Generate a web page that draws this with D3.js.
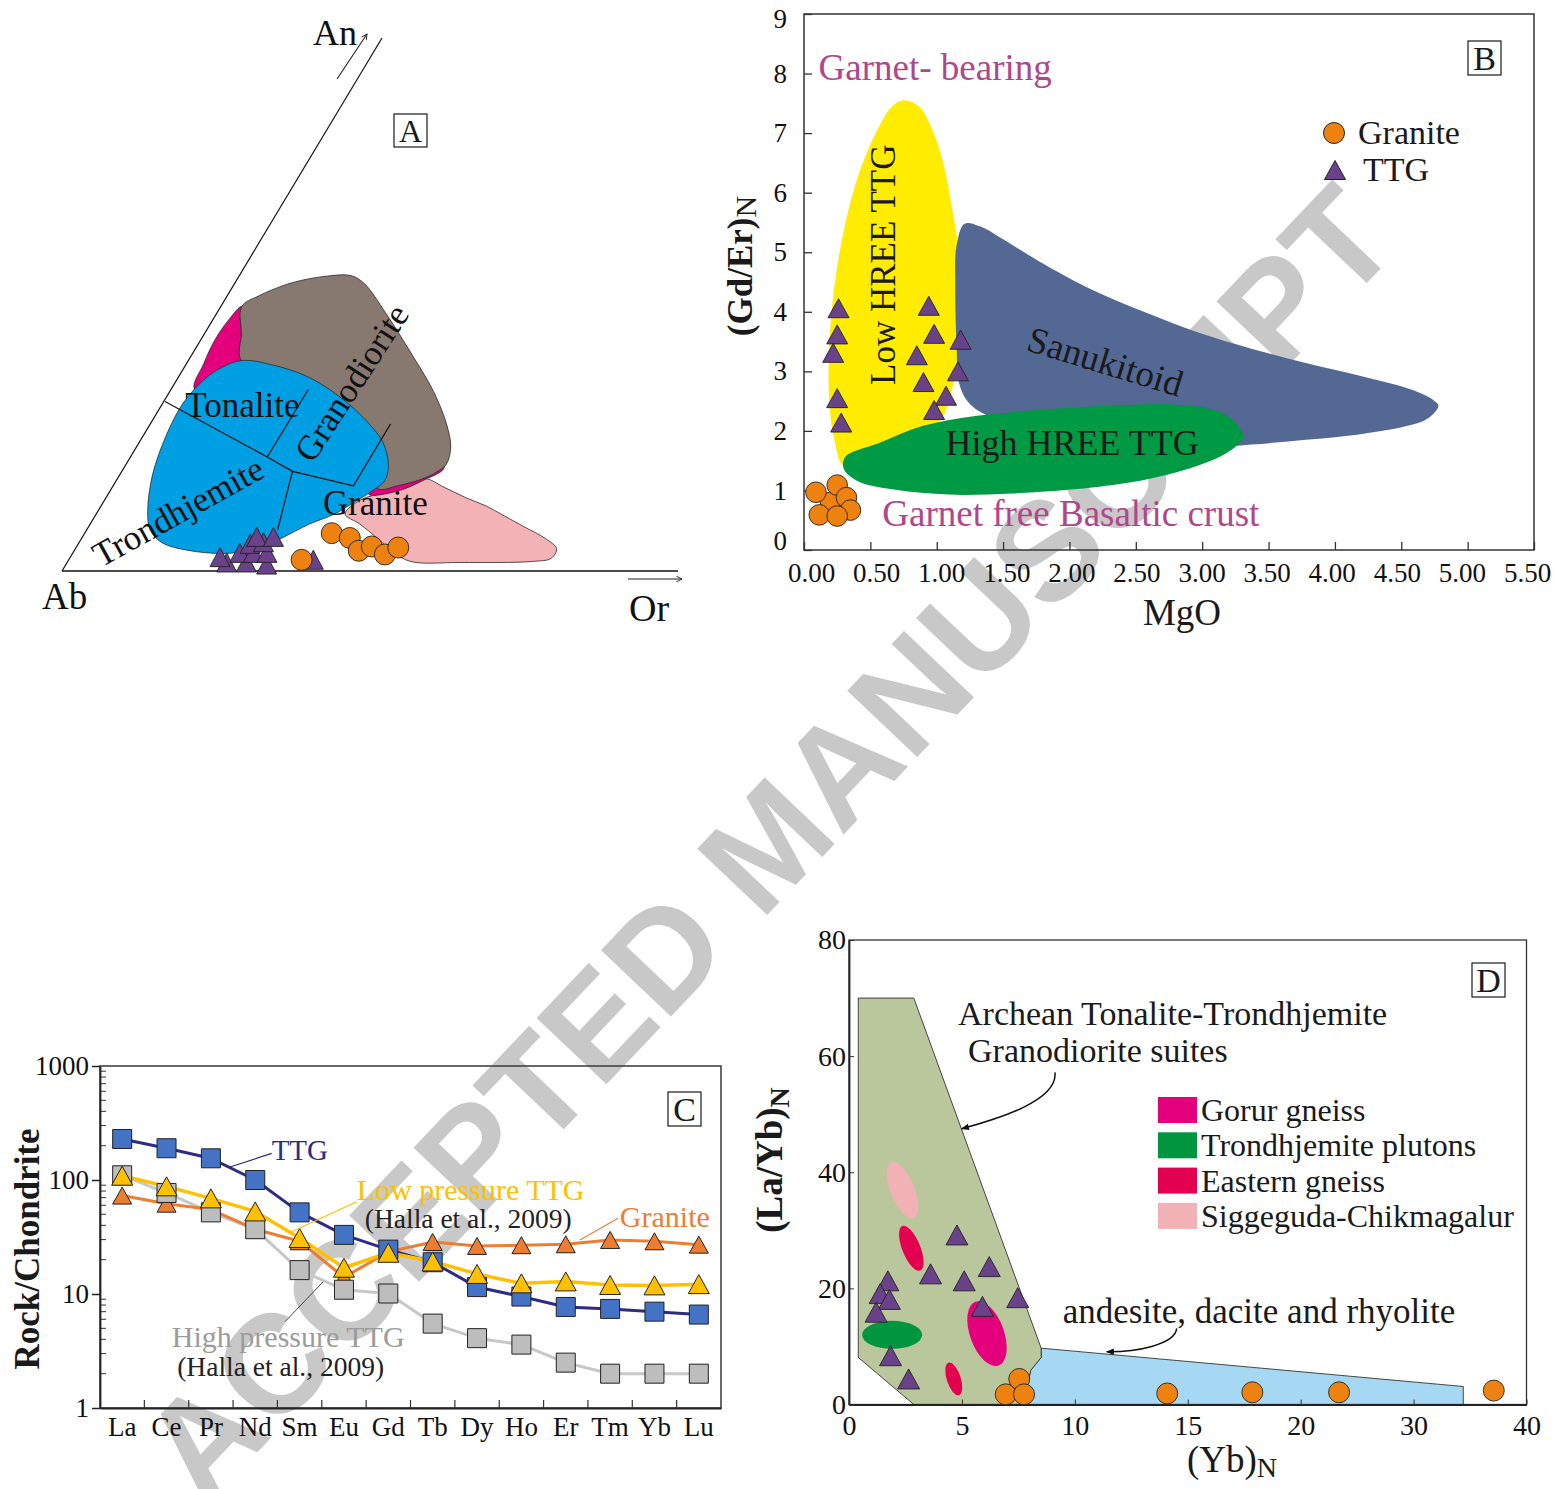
<!DOCTYPE html>
<html>
<head>
<meta charset="utf-8">
<title>TTG and granite geochemistry</title>
<script src="https://cdn.jsdelivr.net/npm/d3@7"></script>
<style>
  html, body { margin: 0; padding: 0; background: #fff; }
  svg { display: block; font-family: "Liberation Serif", "Times New Roman", serif; }
</style>
</head>
<body>
<svg id="fig" width="1554" height="1489"></svg>
<script>
// ---------------- Panel A: Ab–An–Or normative triangle, points as [Or %, An %] ----------------
const aTTG = [[25.9,1.6],[29.1,1.6],[32.6,1.2],[24.3,2.6],[27.1,3.4],[29.3,3.4],[31.5,3.4],
              [27.9,5.1],[29.9,5.4],[28.3,6.4],[31.0,6.4],[39.7,2.1]];
const aGranite = [[37.8,2.1],[40.1,7.1],[43.5,6.2],[46.2,3.8],[47.9,4.6],[50.8,3.1],[52.3,4.4]];
const aFieldGranite = [[49.6,17.4],[53.9,15.7],[58.3,13.8],[62.5,12.2],[66.1,10.5],[70.7,8.3],[75.3,6.1],
  [78.1,4.2],[78.2,2.4],[75.5,1.8],[63.9,1.6],[55.6,1.8],[51.9,3.6],[47.9,6.2],[43.8,8.8],[40.4,10.7],
  [41.5,13.3],[44.8,14.8]];
const aFieldQuartzDioriteUpper = [[3.4,49.6],[2.6,47.2],[2.3,43.3],[2.8,38.9],[3.8,34.1],[10.6,32.1],[11.1,35.8],[6.0,44.5]];
const aFieldQuartzDioriteLower = [[42.3,14.4],[46.7,15.0],[49.8,17.0],[52.0,19.2],[51.0,21.0],[46.0,19.0],[42.0,17.0]];
const aFieldGranodiorite = [[3.4,49.6],[5.1,51.6],[9.3,54.1],[14.8,55.4],[18.2,55.4],[21.1,53.9],[27.3,48.5],
  [35.2,41.1],[42.8,33.7],[48.0,27.7],[51.0,23.3],[52.0,20.0],[51.1,18.5],[49.4,17.2],[46.2,16.0],[43.1,15.5],
  [35.6,24.6],[20.0,35.8],[8.6,39.5],[6.0,44.5]];
const aFieldTTG = [[8.7,39.5],[14.7,38.5],[21.3,36.3],[28.9,32.2],[35.4,27.7],[39.6,24.1],[42.6,20.0],[43.6,17.0],
  [42.6,15.1],[40.5,12.6],[38.7,10.7],[35.6,8.8],[32.5,6.2],[29.8,4.2],[24.8,3.3],[18.3,3.9],[13.5,5.3],
  [10.3,7.7],[8.0,11.4],[5.3,18.1],[3.7,25.5],[3.3,31.5],[4.4,35.9],[6.0,38.1]];
const aBoundaryMain = [[0.2,31.8],[22.2,21.4],[27.7,18.7],[39.0,16.0],[39.0,27.6]];
const aBoundaryTonGrd = [[22.2,21.4],[22.3,34.1]];
const aBoundaryTrdGrt = [[27.7,18.7],[31.0,7.7]];

// ---------------- Panel B: (Gd/Er)N vs MgO ----------------
const bTTG = [[0.26,4.06],[0.25,3.62],[0.22,3.31],[0.25,2.55],[0.28,2.14],[0.94,4.10],[0.98,3.63],
              [0.85,3.27],[0.90,2.82],[1.07,2.59],[0.98,2.35],[1.18,3.53],[1.16,3.00]];
const bGranite = [[0.20,0.80],[0.09,0.97],[0.25,1.09],[0.32,0.88],[0.35,0.67],[0.115,0.59],[0.25,0.57]];
const bLowHREE = [[0.75,7.55],[0.87,7.44],[0.97,7.04],[1.05,6.49],[1.11,5.81],[1.16,5.12],[1.18,4.44],
  [1.18,3.75],[1.16,3.21],[1.11,2.66],[1.03,2.18],[0.89,1.97],[0.57,1.70],[0.30,1.42],[0.23,1.84],
  [0.19,2.52],[0.19,3.41],[0.23,4.44],[0.31,5.47],[0.42,6.36],[0.55,7.04],[0.66,7.44]];
const bSanukitoid = [[1.21,5.48],[1.33,5.43],[1.49,5.23],[1.77,4.85],[2.17,4.37],[2.57,3.99],[2.97,3.65],
  [3.37,3.38],[3.78,3.14],[4.18,2.93],[4.58,2.69],[4.74,2.52],[4.78,2.42],[4.70,2.21],[4.54,2.08],
  [4.18,1.94],[3.78,1.85],[3.37,1.77],[3.00,1.72],[2.20,1.90],[1.45,2.20],[1.25,2.45],[1.17,2.79],
  [1.15,3.41],[1.14,4.44],[1.15,5.12]];
const bHighHREE = [[0.31,1.56],[0.57,1.80],[0.89,2.08],[1.29,2.25],[1.77,2.35],[2.37,2.43],[2.81,2.44],
  [3.09,2.35],[3.23,2.18],[3.31,1.90],[3.27,1.77],[3.13,1.56],[2.89,1.36],[2.57,1.18],[2.17,1.05],
  [1.57,0.95],[1.09,0.93],[0.69,1.01],[0.41,1.15],[0.30,1.36]];
const bXTicks = [0,0.5,1,1.5,2,2.5,3,3.5,4,4.5,5,5.5];
const bYTicks = [0,1,2,3,4,5,6,7,8,9];

// ---------------- Panel C: chondrite-normalised REE ----------------
const ree = ["La","Ce","Pr","Nd","Sm","Eu","Gd","Tb","Dy","Ho","Er","Tm","Yb","Lu"];
const cTTG      = [229,190,155,100,52,33,24.5,19,11.5,9.5,7.7,7.4,7.0,6.6];
const cLowP     = [109,88,69,53,31,17,23,19.3,15,12.4,12.9,12.0,11.9,12.2];
const cGranite  = [73,62,55,37,29,14,23.4,28.6,26.4,26.8,27.3,29.8,29,27.1];
const cHighP    = [110,77,52,37,16.2,10.9,10.1,5.5,4.1,3.6,2.5,2.0,2.0,2.0];
const cYTicks = [1,10,100,1000];

// ---------------- Panel D: (La/Yb)N vs (Yb)N ----------------
const dTTG = [[1.72,21.3],[1.38,19.1],[1.79,18.1],[1.20,15.9],[1.84,8.4],[2.64,4.4],[3.61,22.5],
              [4.78,29.2],[5.10,21.3],[6.21,23.75],[5.91,16.9],[7.47,18.4]];
const dGranite = [[6.94,1.75],[7.54,4.4],[7.75,1.75],[14.09,1.9],[17.86,2.1],[23.4,2.1],[37.1,2.4]];
const dArcheanTTG = [[0.41,70],[2.87,70],[8.51,9.7],[8.51,8.1],[8.05,5.9],[7.70,0],[2.87,0],[0.41,8.1]];
const dVolcanic = [[8.51,9.7],[34.4,3.1],[34.4,0],[7.70,0],[8.05,5.9],[8.51,8.1]];
const dFieldNames = ["Gorur gneiss","Trondhjemite plutons","Eastern gneiss","Siggeguda-Chikmagalur"];
// ellipse fields: centre (x, y), semi-axes in data units, tilt in degrees, legend entry
const dFields = [
  {x:2.37, y:36.9, rx:0.53, ry:5.16, tilt:-22, field:3},
  {x:2.76, y:26.9, rx:0.40, ry:4.13, tilt:-22, field:2},
  {x:6.11, y:12.2, rx:0.75, ry:5.85, tilt:-20, field:0},
  {x:4.64, y:4.4,  rx:0.31, ry:2.93, tilt:-18, field:2},
  {x:1.91, y:12.0, rx:1.33, ry:2.41, tilt:0,   field:1}
];
const dXTicks = [0,5,10,15,20,30,40];
const dYTicks = [0,20,40,60,80];

// ---------------- drawing ----------------
const svg = d3.select("#fig");
const ink = "#1a1a1a";
const purple = "#6a4289";
const orange = "#ee8210";

const tri = (w, h) => `M0,${-h/2}L${w/2},${h/2}L${-w/2},${h/2}Z`;
const sq = s => `M${-s/2},${-s/2}h${s}v${s}h${-s}Z`;
const smooth = d3.line().curve(d3.curveCatmullRomClosed.alpha(0.5));
const polyClosed = d3.line().curve(d3.curveLinearClosed);
const polyOpen = d3.line();

const defs = svg.append("defs");
defs.append("marker").attr("id", "openHead").attr("viewBox", "0 0 10 10")
  .attr("refX", 9).attr("refY", 5).attr("markerWidth", 7).attr("markerHeight", 7)
  .attr("markerUnits", "userSpaceOnUse").attr("orient", "auto")
  .append("path").attr("d", "M1,1L9,5L1,9").attr("fill", "none").attr("stroke", "#222").attr("stroke-width", 1.3);
defs.append("marker").attr("id", "solidHead").attr("viewBox", "0 0 10 10")
  .attr("refX", 9).attr("refY", 5).attr("markerWidth", 11).attr("markerHeight", 8)
  .attr("markerUnits", "userSpaceOnUse").attr("orient", "auto")
  .append("path").attr("d", "M0,1L10,5L0,9Z").attr("fill", "#111");

// watermark sits underneath every panel
svg.append("text")
  .attr("transform", "translate(767,842) rotate(-46.5)")
  .attr("text-anchor", "middle").attr("dy", "0.36em")
  .style("font-family", "'Liberation Sans', Arial, sans-serif")
  .style("font-weight", "bold").style("font-size", "140px")
  .attr("fill", "#c8c8c8")
  .text("ACCEPTED MANUSCRIPT");

function letterBox(g, x, y, w, h, letter, size) {
  g.append("rect").attr("x", x).attr("y", y).attr("width", w).attr("height", h)
    .attr("fill", "#fff").attr("stroke", ink).attr("stroke-width", 1.2);
  g.append("text").attr("x", x + w / 2).attr("y", y + h / 2).attr("dy", "0.35em")
    .attr("text-anchor", "middle").style("font-size", size + "px").attr("fill", ink).text(letter);
}

// ================= Panel A =================
const gA = svg.append("g");
const anY = d3.scaleLinear([0, 100], [571, 38]);
const anShift = d3.scaleLinear([0, 100], [0, 320]);
const orX = d3.scaleLinear([0, 100], [62, 678]);
const proj = ([or, an]) => [orX(or) + anShift(an), anY(an)];

[
  {pts: aFieldGranite, fill: "#f3b3b6"},
  {pts: aFieldQuartzDioriteUpper, fill: "#e4007d"},
  {pts: aFieldQuartzDioriteLower, fill: "#e4007d"},
  {pts: aFieldGranodiorite, fill: "#877870"},
  {pts: aFieldTTG, fill: "#009fe3"}
].forEach(f => {
  gA.append("path").attr("d", smooth(f.pts.map(proj)))
    .attr("fill", f.fill).attr("stroke", "#2a2a2a").attr("stroke-width", 0.8);
});
[aBoundaryMain, aBoundaryTonGrd, aBoundaryTrdGrt].forEach(b => {
  gA.append("path").attr("d", polyOpen(b.map(proj)))
    .attr("fill", "none").attr("stroke", "#111").attr("stroke-width", 1.2);
});
// triangle sides Ab–An and Ab–Or
gA.append("path").attr("d", polyOpen([[0,0],[0,100]].map(proj))).attr("stroke", "#111").attr("stroke-width", 1.2);
gA.append("path").attr("d", polyOpen([[0,0],[100,0]].map(proj))).attr("stroke", "#111").attr("stroke-width", 1.4);

const aLabels = [
  {t: "Tonalite", p: [5.0, 28.9], anchor: "start", rot: 0},
  {t: "Granodiorite", p: [28.7, 35.3], anchor: "middle", rot: -57, dy: "0.33em"},
  {t: "Trondhjemite", p: [13.1, 11.1], anchor: "middle", rot: -29, dy: "0.33em"},
  {t: "Granite", p: [36.9, 10.5], anchor: "start", rot: 0}
];
aLabels.forEach(l => {
  const [x, y] = proj(l.p);
  gA.append("text").attr("transform", `translate(${x},${y}) rotate(${l.rot})`)
    .attr("text-anchor", l.anchor).attr("dy", l.dy || 0)
    .style("font-size", "35px").attr("fill", "#111").text(l.t);
});

gA.selectAll(".aTri").data(aTTG).join("path")
  .attr("transform", d => `translate(${proj(d)})`).attr("d", tri(20, 19))
  .attr("fill", purple).attr("stroke", "#222").attr("stroke-width", 0.9);
gA.selectAll(".aCirc").data(aGranite).join("circle")
  .attr("cx", d => proj(d)[0]).attr("cy", d => proj(d)[1]).attr("r", 10.5)
  .attr("fill", orange).attr("stroke", "#222").attr("stroke-width", 0.9);

// apex labels and direction arrows
gA.append("text").attr("x", 313).attr("y", 45).style("font-size", "36px").attr("fill", "#111").text("An");
gA.append("line").attr("x1", 337).attr("y1", 79).attr("x2", 367).attr("y2", 34)
  .attr("stroke", "#222").attr("stroke-width", 1.1).attr("marker-end", "url(#openHead)");
gA.append("text").attr("x", 42).attr("y", 609).style("font-size", "37px").attr("fill", "#111").text("Ab");
gA.append("text").attr("x", 629).attr("y", 621).style("font-size", "38px").attr("fill", "#111").text("Or");
gA.append("line").attr("x1", 628).attr("y1", 579).attr("x2", 682).attr("y2", 579)
  .attr("stroke", "#222").attr("stroke-width", 1.1).attr("marker-end", "url(#openHead)");
letterBox(gA, 394, 114, 33, 33, "A", 32);

// ================= Panel B =================
const gB = svg.append("g");
const xB = d3.scaleLinear([0, 5.5], [804, 1534]);
const yB = d3.scaleLinear([0, 9], [550, 14]);
const projB = d => [xB(d[0]), yB(d[1])];

gB.append("path").attr("d", smooth(bLowHREE.map(projB))).attr("fill", "#ffec00");
gB.append("path").attr("d", smooth(bSanukitoid.map(projB))).attr("fill", "#536893");
gB.append("path").attr("d", smooth(bHighHREE.map(projB))).attr("fill", "#009a44");

gB.append("rect").attr("x", xB(0)).attr("y", yB(9)).attr("width", xB(5.5) - xB(0)).attr("height", yB(0) - yB(9))
  .attr("fill", "none").attr("stroke", "#333").attr("stroke-width", 1.5);

const axB = gB.append("g").attr("transform", `translate(0,${yB(0)})`)
  .call(d3.axisBottom(xB).tickValues(bXTicks).tickFormat(d3.format(".2f")).tickSizeInner(-8).tickSizeOuter(0).tickPadding(13));
const ayB = gB.append("g").attr("transform", `translate(${xB(0)},0)`)
  .call(d3.axisLeft(yB).tickValues(bYTicks).tickFormat(d3.format("d")).tickSizeInner(-8).tickSizeOuter(0).tickPadding(17));
[axB, ayB].forEach(a => {
  a.select(".domain").remove();
  a.selectAll("line").attr("stroke", "#333").attr("stroke-width", 1.3);
  a.selectAll("text").style("font-family", "'Liberation Serif', serif").style("font-size", "27px").attr("fill", "#111");
});
// the outer tick labels are pulled in towards the plot so they stay clear of each other and the edge
const nB = bXTicks.length - 1;
axB.selectAll("text").attr("dx", (d, i) => 7 - 14 * i / nB);
ayB.selectAll("text").attr("dy", d => d === 0 ? "-0.03em" : d === 9 ? "0.5em" : "0.32em");

gB.append("text").attr("x", xB(0.11)).attr("y", yB(7.9)).style("font-size", "37px").attr("fill", "#b0468b").text("Garnet- bearing");
gB.append("text").attr("x", xB(0.59)).attr("y", yB(0.40)).style("font-size", "37px").attr("fill", "#b0468b").text("Garnet free Basaltic crust");
gB.append("text").attr("transform", `translate(${xB(0.60)},${yB(4.79)}) rotate(-90)`)
  .attr("text-anchor", "middle").attr("dy", "0.33em").style("font-size", "35px").attr("fill", ink).text("Low HREE TTG");
gB.append("text").attr("transform", `translate(${xB(2.27)},${yB(3.16)}) rotate(17)`)
  .attr("text-anchor", "middle").attr("dy", "0.33em").style("font-size", "37px").attr("fill", ink).text("Sanukitoid");
gB.append("text").attr("x", xB(2.02)).attr("y", yB(1.80)).attr("dy", "0.33em")
  .attr("text-anchor", "middle").style("font-size", "36px").attr("fill", ink).text("High HREE TTG");

gB.selectAll(".bTri").data(bTTG).join("path")
  .attr("transform", d => `translate(${projB(d)})`).attr("d", tri(21, 19))
  .attr("fill", purple).attr("stroke", "#222").attr("stroke-width", 0.9);
gB.selectAll(".bCirc").data(bGranite).join("circle")
  .attr("cx", d => xB(d[0])).attr("cy", d => yB(d[1])).attr("r", 10.3)
  .attr("fill", orange).attr("stroke", "#222").attr("stroke-width", 0.9);

// legend
gB.append("circle").attr("cx", 1334).attr("cy", 133).attr("r", 10.5).attr("fill", orange).attr("stroke", "#222");
gB.append("text").attr("x", 1358).attr("y", 133).attr("dy", "0.33em").style("font-size", "34px").attr("fill", ink).text("Granite");
gB.append("path").attr("transform", "translate(1335,170)").attr("d", tri(21, 19)).attr("fill", purple).attr("stroke", "#222");
gB.append("text").attr("x", 1363).attr("y", 170).attr("dy", "0.33em").style("font-size", "34px").attr("fill", ink).text("TTG");
letterBox(gB, 1468, 41, 33, 34, "B", 34);

gB.append("text").attr("x", (xB(0) + xB(5.5)) / 2 + 13).attr("y", 625)
  .attr("text-anchor", "middle").style("font-size", "37px").attr("fill", ink).text("MgO");
const yTitleB = gB.append("text").attr("transform", "translate(752,266) rotate(-90)")
  .attr("text-anchor", "middle").style("font-size", "35px").style("font-weight", "bold").attr("fill", ink);
yTitleB.append("tspan").text("(Gd/Er)");
yTitleB.append("tspan").attr("dy", "0.12em").style("font-weight", "normal").style("font-size", "30px").text("N");

// ================= Panel C =================
const gC = svg.append("g");
const xC = d3.scaleBand().domain(ree).range([100, 721]);
const yC = d3.scaleLog().domain([1, 1000]).range([1408, 1066]);
const idxC = d3.scaleLinear([0, ree.length - 1], [xC(ree[0]) + xC.bandwidth() / 2, xC(ree[ree.length - 1]) + xC.bandwidth() / 2]);

gC.append("rect").attr("x", 100).attr("y", yC(1000)).attr("width", 621).attr("height", yC(1) - yC(1000))
  .attr("fill", "none").attr("stroke", "#444").attr("stroke-width", 1.6);

// category boundary ticks along the bottom
gC.selectAll(".bt").data(ree.slice(1)).join("line")
  .attr("x1", d => xC(d)).attr("x2", d => xC(d)).attr("y1", yC(1)).attr("y2", yC(1) - 8)
  .attr("stroke", "#333").attr("stroke-width", 1.2);
// minor log ticks inside the left axis
const minor = [];
[1, 10, 100].forEach(dec => { for (let k = 2; k <= 9; k++) minor.push(k * dec); });
gC.selectAll(".mt").data(minor).join("line")
  .attr("x1", 100).attr("x2", 106).attr("y1", d => yC(d)).attr("y2", d => yC(d))
  .attr("stroke", "#333").attr("stroke-width", 1);

const ayC = gC.append("g").attr("transform", "translate(100,0)")
  .call(d3.axisLeft(yC).tickValues(cYTicks).tickFormat(d3.format("d")).tickSizeInner(8).tickSizeOuter(0).tickPadding(3));
const axC = gC.append("g").attr("transform", `translate(0,${yC(1)})`)
  .call(d3.axisBottom(xC).tickSize(0).tickPadding(9));
[ayC, axC].forEach(a => {
  a.select(".domain").attr("stroke", "#222").attr("stroke-width", 1.8);
  a.selectAll("line").attr("stroke", "#222").attr("stroke-width", 1.5);
  a.selectAll("text").style("font-family", "'Liberation Serif', serif").style("font-size", "27px").attr("fill", "#111");
});

const cSeries = [
  {values: cHighP,   line: "#c7c7c7", fill: "#bdbdbd", shape: sq(19), lw: 3},
  {values: cGranite, line: "#ed7d31", fill: "#ed7d31", shape: tri(19, 17), lw: 3},
  {values: cTTG,     line: "#2e2b87", fill: "#4472c4", shape: sq(19), lw: 3},
  {values: cLowP,    line: "#ffc000", fill: "#ffc000", shape: tri(21, 19), lw: 3.5}
];
const reeLine = d3.line().x((d, i) => xC(ree[i]) + xC.bandwidth() / 2).y(d => yC(d));
cSeries.forEach(s => {
  gC.append("path").attr("d", reeLine(s.values)).attr("fill", "none")
    .attr("stroke", s.line).attr("stroke-width", s.lw).attr("stroke-linejoin", "round");
});
[cSeries[1], cSeries[0], cSeries[2], cSeries[3]].forEach(s => {
  gC.append("g").selectAll("path").data(s.values).join("path")
    .attr("transform", (d, i) => `translate(${xC(ree[i]) + xC.bandwidth() / 2},${yC(d)})`)
    .attr("d", s.shape).attr("fill", s.fill).attr("stroke", "#222").attr("stroke-width", 1);
});

// series annotations with leader lines
const cNotes = [
  {from: [2.43, 130], to: [3.37, 171], color: "#2e2b87", lw: 1.2,
   texts: [{t: "TTG", at: [3.37, 150], size: 29, color: "#2e2b87"}]},
  {from: [3.82, 35.2], to: [5.29, 64.5], color: "#ffc000", lw: 1.2,
   texts: [{t: "Low pressure TTG", at: [5.29, 66.8], size: 30, color: "#ffc000"},
            {t: "(Halla et al., 2009)", at: [5.47, 37.9], size: 27.5, color: "#222"}]},
  {from: [10.32, 29.8], to: [11.18, 46.1], color: "#ed7d31", lw: 1.2,
   texts: [{t: "Granite", at: [11.22, 38.7], size: 30, color: "#ed7d31"}]},
  {from: [3.67, 5.71], to: [4.53, 12.8], color: "#444", lw: 1,
   texts: [{t: "High pressure TTG", at: [1.12, 3.43], size: 30, color: "#9b9b9b"},
            {t: "(Halla et al., 2009)", at: [1.24, 1.91], size: 27.5, color: "#222"}]}
];
cNotes.forEach(n => {
  gC.append("line").attr("x1", idxC(n.from[0])).attr("y1", yC(n.from[1]))
    .attr("x2", idxC(n.to[0])).attr("y2", yC(n.to[1]))
    .attr("stroke", n.color).attr("stroke-width", n.lw);
  n.texts.forEach(t => gC.append("text").attr("x", idxC(t.at[0])).attr("y", yC(t.at[1]))
    .style("font-size", t.size + "px").attr("fill", t.color).text(t.t));
});
letterBox(gC, 668, 1092, 33, 34, "C", 34);
gC.append("text").attr("transform", "translate(39,1249) rotate(-90)").attr("text-anchor", "middle")
  .style("font-size", "35px").style("font-weight", "bold").attr("fill", ink).text("Rock/Chondrite");

// ================= Panel D =================
const gD = svg.append("g");
const dLeft = 849, dRight = 1526.5;
const xD = d3.scaleLinear().domain(dXTicks)
  .range(dXTicks.map((d, i) => dLeft + i * (dRight - dLeft) / (dXTicks.length - 1)));
const yD = d3.scaleLinear([0, 80], [1404.5, 940]);
const projD = d => [xD(d[0]), yD(d[1])];
const dColors = ["#e4007c", "#009640", "#e4004f", "#f2b1b5"];

gD.append("path").attr("d", polyClosed(dVolcanic.map(projD))).attr("fill", "#a6d8f4")
  .attr("stroke", "#333").attr("stroke-width", 0.9);
gD.append("path").attr("d", polyClosed(dArcheanTTG.map(projD))).attr("fill", "#bac79d")
  .attr("stroke", "#333").attr("stroke-width", 0.9);

gD.selectAll(".ell").data(dFields).join("ellipse")
  .attr("cx", d => xD(d.x)).attr("cy", d => yD(d.y))
  .attr("rx", d => xD(d.x + d.rx) - xD(d.x)).attr("ry", d => yD(0) - yD(d.ry))
  .attr("transform", d => `rotate(${d.tilt},${xD(d.x)},${yD(d.y)})`)
  .attr("fill", d => dColors[d.field]);

gD.append("rect").attr("x", dLeft).attr("y", yD(80)).attr("width", dRight - dLeft).attr("height", yD(0) - yD(80))
  .attr("fill", "none").attr("stroke", "#333").attr("stroke-width", 1.3);
const axD = gD.append("g").attr("transform", `translate(0,${yD(0)})`)
  .call(d3.axisBottom(xD).tickValues(dXTicks).tickFormat(d3.format("d")).tickSizeInner(-5).tickSizeOuter(0).tickPadding(11));
const ayD = gD.append("g").attr("transform", `translate(${dLeft},0)`)
  .call(d3.axisLeft(yD).tickValues(dYTicks).tickFormat(d3.format("d")).tickSizeInner(-5).tickSizeOuter(0).tickPadding(3));
[axD, ayD].forEach(a => {
  a.select(".domain").attr("stroke", "#222").attr("stroke-width", 1.8);
  a.selectAll("line").attr("stroke", "#333");
  a.selectAll("text").style("font-family", "'Liberation Serif', serif").style("font-size", "28px").attr("fill", "#111");
});

gD.selectAll(".dTri").data(dTTG).join("path")
  .attr("transform", d => `translate(${projD(d)})`).attr("d", tri(22, 20))
  .attr("fill", purple).attr("stroke", "#222").attr("stroke-width", 0.9);
gD.selectAll(".dCirc").data(dGranite).join("circle")
  .attr("cx", d => xD(d[0])).attr("cy", d => yD(d[1])).attr("r", 10.5)
  .attr("fill", orange).attr("stroke", "#222").attr("stroke-width", 0.9);

// field annotations
gD.append("text").attr("x", xD(4.83)).attr("y", yD(65.3)).style("font-size", "34px").attr("fill", ink)
  .text("Archean Tonalite-Trondhjemite");
gD.append("text").attr("x", xD(5.27)).attr("y", yD(59.0)).style("font-size", "34px").attr("fill", ink)
  .text("Granodiorite suites");
gD.append("text").attr("x", xD(9.46)).attr("y", yD(13.97)).style("font-size", "35px").attr("fill", ink)
  .text("andesite, dacite and rhyolite");
const curveArrow = (s, c1, c2, e) => {
  const p = d3.path();
  p.moveTo(xD(s[0]), yD(s[1]));
  p.bezierCurveTo(xD(c1[0]), yD(c1[1]), xD(c2[0]), yD(c2[1]), xD(e[0]), yD(e[1]));
  return p.toString();
};
gD.append("path").attr("d", curveArrow([9.12, 57.2], [9.26, 52.4], [6.69, 49.3], [4.99, 47.5]))
  .attr("fill", "none").attr("stroke", "#111").attr("stroke-width", 1.5).attr("marker-end", "url(#solidHead)");
gD.append("path").attr("d", curveArrow([14.51, 13.1], [14.44, 10.24], [12.67, 9.04], [11.41, 9.09]))
  .attr("fill", "none").attr("stroke", "#111").attr("stroke-width", 1.5).attr("marker-end", "url(#solidHead)");

// legend
const legD = gD.append("g");
dFieldNames.forEach((name, i) => {
  const y0 = 1097 + i * 35.3;
  legD.append("rect").attr("x", 1158).attr("y", y0).attr("width", 39).attr("height", 26).attr("fill", dColors[i]);
  legD.append("text").attr("x", 1201).attr("y", y0 + 24).style("font-size", "32px").attr("fill", ink).text(name);
});
letterBox(gD, 1472, 963, 33, 34, "D", 34);

const xTitleD = gD.append("text").attr("x", 1232).attr("y", 1472).attr("text-anchor", "middle")
  .style("font-size", "37px").attr("fill", ink);
xTitleD.append("tspan").text("(Yb)");
xTitleD.append("tspan").attr("dy", "0.18em").style("font-size", "28px").text("N");
const yTitleD = gD.append("text").attr("transform", "translate(782,1160) rotate(-90)").attr("text-anchor", "middle")
  .style("font-size", "37px").style("font-weight", "bold").attr("fill", ink);
yTitleD.append("tspan").text("(La/Yb)");
yTitleD.append("tspan").attr("dy", "0.25em").style("font-size", "28px").text("N");
</script>
</body>
</html>
